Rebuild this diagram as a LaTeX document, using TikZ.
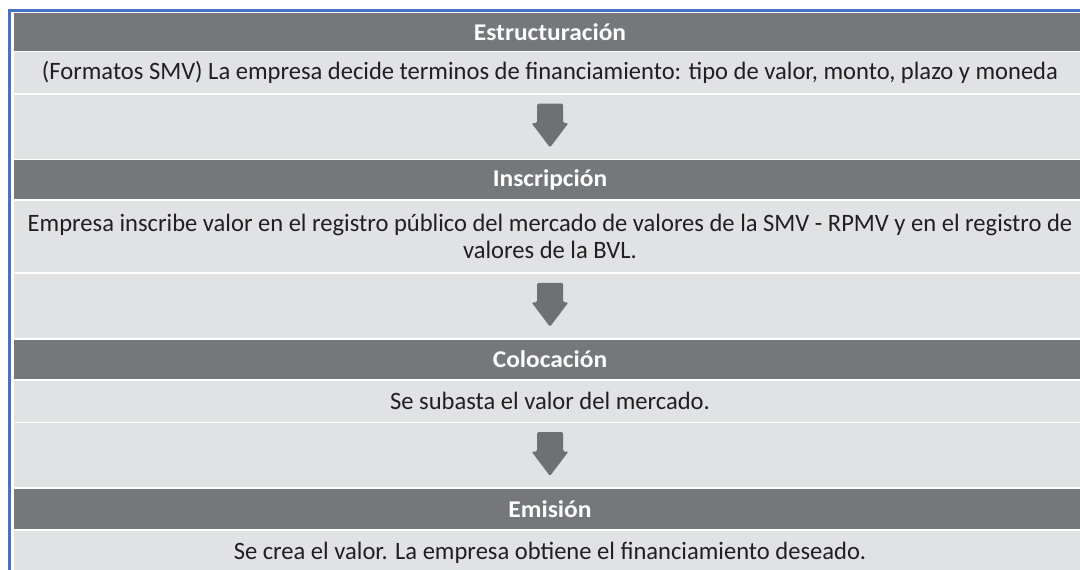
\documentclass[tikz,border=0pt]{standalone}
\usepackage{fontspec}
\setmainfont{Carlito}
\newfontfamily\bodyfont{Carlito}[FakeStretch=0.982]
\newfontfamily\headfont{Carlito}[FakeStretch=1.06]
\definecolor{hdrgray}{HTML}{76777B}
\definecolor{rowgray}{HTML}{E1E2E4}
\definecolor{edgeblue}{HTML}{4472C4}
\definecolor{txt}{HTML}{231F20}
\definecolor{arrowgray}{HTML}{6F7074}
\tikzset{
  hdr/.style={fill=hdrgray, text=white, font=\headfont\fontsize{24}{26}\selectfont\bfseries, minimum width=1072pt, inner sep=0pt, anchor=center},
  txtrow/.style={fill=rowgray, text=txt, font=\bodyfont\fontsize{25}{27}\selectfont, minimum width=1072pt, inner sep=0pt, align=center, anchor=center},
  arrowrow/.style={fill=rowgray, minimum width=1072pt, inner sep=0pt, anchor=center},
  blockarrow/.style={fill=arrowgray, rounded corners=1.5pt}
}
\newcommand{\downarrowshape}[1]{%
  \fill[blockarrow] ([shift={(-13pt,23pt)}]#1) -- ([shift={(13pt,23pt)}]#1) -- ([shift={(13pt,3.5pt)}]#1) -- ([shift={(18.5pt,3.5pt)}]#1) -- ([shift={(0pt,-21pt)}]#1) -- ([shift={(-18.5pt,3.5pt)}]#1) -- ([shift={(-13pt,3.5pt)}]#1) -- cycle;}
\begin{document}
\begin{tikzpicture}[x=1pt,y=-1pt]
\clip (0,0) rectangle (1080,570);
\fill[white] (0,0) rectangle (1080,570);
\fill[edgeblue] (8,9) rectangle (1080,12.3);
\fill[edgeblue] (7.5,9) rectangle (11,570);
\node[hdr, minimum height=37.5pt] (h1) at (550,31.75) {Estructuración};
\node[txtrow, minimum height=41pt] (t1) at (550,72.5) {(Formatos SMV) La empresa decide terminos de financiamiento: tipo de valor, monto, plazo y moneda};
\node[arrowrow, minimum height=64pt] (a1) at (550,126.5) {};
\node[hdr, minimum height=39pt] (h2) at (550,179.5) {Inscripción};
\node[txtrow, minimum height=71.5pt] (t2) at (550,236.25) {Empresa inscribe valor en el registro público del mercado de valores de la SMV - RPMV y en el registro de\\valores de la BVL.};
\node[arrowrow, minimum height=64.5pt] (a2) at (550,305.75) {};
\node[hdr, minimum height=39.5pt] (h3) at (550,359.25) {Colocación};
\node[txtrow, minimum height=41pt] (t3) at (550,401) {Se subasta el valor del mercado.};
\node[arrowrow, minimum height=64pt] (a3) at (550,455) {};
\node[hdr, minimum height=40.5pt] (h4) at (550,508.75) {Emisión};
\node[txtrow, minimum height=44pt] (t4) at (550,552.5) {Se crea el valor. La empresa obtiene el financiamiento deseado.};
\downarrowshape{a1.center}
\downarrowshape{a2.center}
\downarrowshape{a3.center}
\end{tikzpicture}
\end{document}
